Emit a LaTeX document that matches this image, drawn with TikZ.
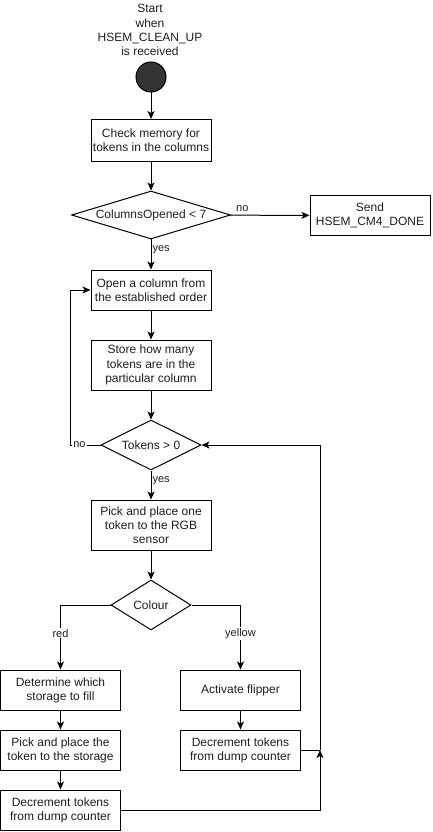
\documentclass[tikz,border=0pt]{standalone}
\usepackage{fontspec}
\setmainfont{Liberation Sans}
\usetikzlibrary{arrows.meta,positioning,shapes.geometric}
\definecolor{startgray}{RGB}{51,51,51}
\definecolor{textgray}{RGB}{30,30,30}

\begin{document}
\begin{tikzpicture}[x=1pt, y=-1pt, line width=1pt,
  every node/.style={font=\fontsize{12}{14.2}\selectfont, text=textgray},
  box/.style={draw, rectangle, minimum width=120pt, minimum height=40pt, align=center, inner sep=1pt},
  decision/.style={draw, diamond, inner sep=0pt, align=center},
  lbl/.style={font=\fontsize{11}{13}\selectfont, fill=white, inner sep=1pt},
  flow/.style={-{Stealth[length=8pt, width=7pt, inset=2pt]}}]
  \useasboundingbox (0,0) rectangle (432,832);
  \node[align=center] (title) at (150,30) {Start\\when\\HSEM\_CLEAN\_UP\\is received};
  \node[draw, circle, fill=startgray, minimum size=30pt, inner sep=0pt] (start) at (151,77) {};
  \node[box, minimum height=42pt] (chk) at (151,140.5) {Check memory for\\tokens in the columns};
  \node[decision, aspect=3.3, minimum width=159pt, minimum height=48pt] (cols) at (151,215) {ColumnsOpened {\textless} 7};
  \node[box] (send) at (370,215.5) {Send\\HSEM\_CM4\_DONE};
  \node[box] (open) at (151,290) {Open a column from\\the established order};
  \node[box, minimum height=50pt] (store) at (151,365) {Store how many\\tokens are in the\\particular column};
  \node[decision, aspect=2, minimum width=100pt, minimum height=50pt] (tok) at (151,445) {Tokens {\textgreater} 0};
  \node[box, minimum height=50pt] (pick) at (151,525) {Pick and place one\\token to the RGB\\sensor};
  \node[decision, aspect=1.6, minimum width=80pt, minimum height=50pt] (col) at (151,605) {Colour};
  \node[box] (det) at (60.5,690) {Determine which\\storage to fill};
  \node[box] (pp) at (60.5,750) {Pick and place the\\token to the storage};
  \node[box] (decr) at (60.5,810) {Decrement tokens\\from dump counter};
  \node[box] (flip) at (240.5,690) {Activate flipper};
  \node[box] (decy) at (240.5,750) {Decrement tokens\\from dump counter};
  \coordinate (join) at (320,750);

  \draw[flow] (start) -- (chk);
  \draw[flow] (chk) -- (cols);
  \draw[flow] (cols) -- node[lbl, pos=0.15, above=2pt, fill=none] {no} (send);
  \draw[flow] (cols) -- node[lbl, pos=0.35, right, fill=none] {yes} (open);
  \draw[flow] (open) -- (store);
  \draw[flow] (store) -- (tok);
  \draw[flow] (tok.west) -- node[lbl, pos=0.7] {no} ++(-30,0) |- (open.west);
  \draw[flow] (tok) -- node[lbl, pos=0.35, right, fill=none] {yes} (pick);
  \draw[flow] (pick) -- (col);
  \draw[flow] (col.west) -| node[lbl, pos=0.72] {red} (det);
  \draw[flow] (col.east) -| node[lbl, pos=0.72] {yellow} (flip);
  \draw[flow] (det) -- (pp);
  \draw[flow] (pp) -- (decr);
  \draw[flow] (flip) -- (decy);
  \draw[flow] (decr.east) -| (join);
  \draw (decy.east) -- (join);
  \draw[flow] (join) |- (tok.east);
\end{tikzpicture}
\end{document}
